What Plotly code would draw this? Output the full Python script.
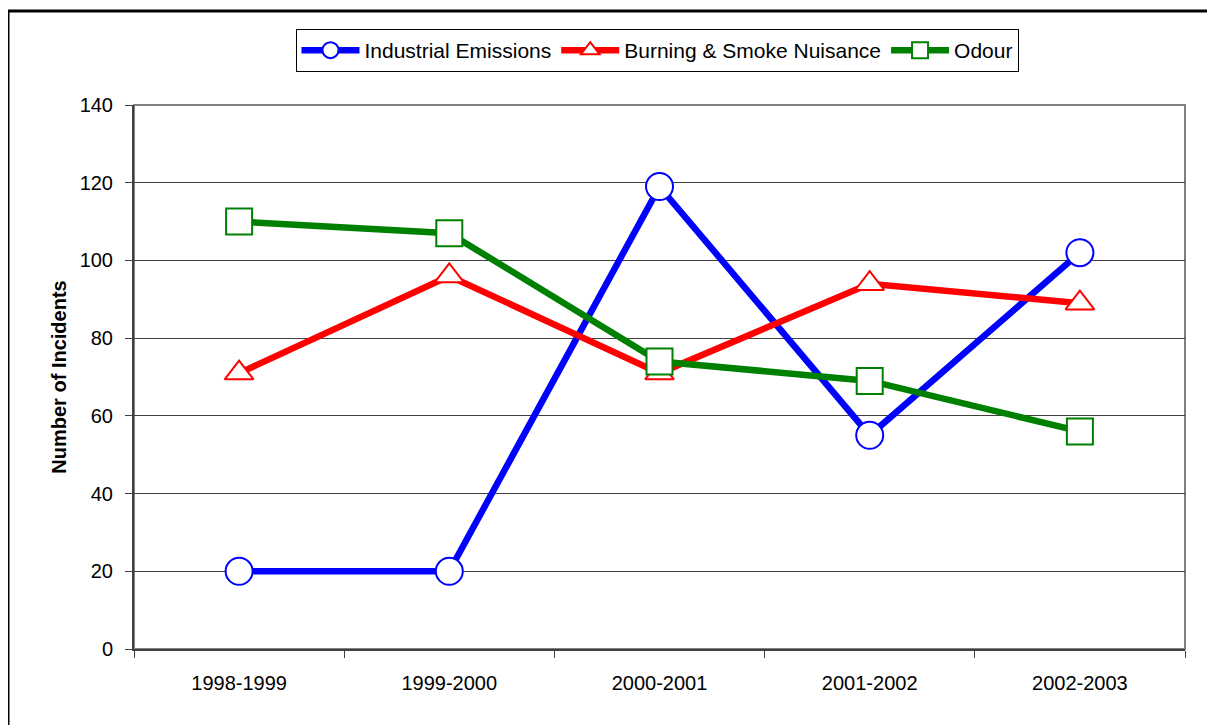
import plotly.graph_objects as go

years = ["1998-1999", "1999-2000", "2000-2001", "2001-2002", "2002-2003"]
industrial = [20, 20, 119, 55, 102]
burning = [71, 96, 71, 94, 89]
odour = [110, 107, 74, 69, 56]
y_ticks = [0, 20, 40, 60, 80, 100, 120, 140]

# page body has an 8px margin; compensate so the plot lands where the reference has it
OFF = 8
W, H = 1215 - OFF, 725 - OFF
L, R, T, B = 134 - OFF, 30, 105 - OFF, 76
pw, ph = W - L - R, H - T - B


def px_x(x):
    return (x - OFF - L) / pw


def px_y(y):
    return (H - B - (y - OFF)) / ph


fig = go.Figure()

series = [
    ("Industrial Emissions", industrial, "#0000FF", "circle", 27),
    ("Burning & Smoke Nuisance", burning, "#FF0000", "triangle-up", 25),
    ("Odour", odour, "#008000", "square", 26),
]
for name, vals, col, sym, sz in series:
    fig.add_trace(go.Scatter(
        x=years, y=vals, name=name, mode="lines+markers",
        line=dict(color=col, width=6.5),
        marker=dict(symbol=sym, size=sz, color="white", line=dict(color=col, width=2)),
        cliponaxis=False,
    ))

# outer frame
fig.add_shape(type="rect", xref="paper", yref="paper",
              x0=px_x(8), x1=px_x(1260),
              y0=px_y(780), y1=px_y(11),
              line=dict(color="black", width=3), fillcolor="rgba(0,0,0,0)", layer="below")
# plot area border (gray top/right)
fig.add_shape(type="rect", xref="paper", yref="paper", x0=0, x1=1, y0=0, y1=1,
              line=dict(color="#808080", width=2), layer="below")

fig.update_layout(
    width=W, height=H,
    margin=dict(l=L, r=R, t=T, b=B),
    paper_bgcolor="white", plot_bgcolor="white",
    font=dict(family="Liberation Sans, Arial", size=20, color="black"),
    showlegend=True,
    legend=dict(orientation="h", x=px_x(657), xanchor="center", y=px_y(29), yanchor="top",
                bordercolor="black", borderwidth=1, bgcolor="white",
                font=dict(size=21), tracegroupgap=0, itemwidth=58),
    xaxis=dict(type="category", range=[-0.5, 4.5], tickson="boundaries",
               ticks="outside", ticklen=7, tickcolor="#404040",
               showgrid=False, showline=True, linecolor="#404040", linewidth=2,
               tickfont=dict(size=20), ticklabelstandoff=15),
    yaxis=dict(range=[0, 140], tickvals=y_ticks, ticks="outside", ticklen=7,
               tickcolor="#404040", showgrid=True, gridcolor="#404040", gridwidth=1,
               showline=True, linecolor="#404040", linewidth=2, zeroline=False,
               tickfont=dict(size=20), ticklabelstandoff=8,
               title=dict(text="<b>Number of Incidents</b>", font=dict(size=20), standoff=8)),
)

fig.write_html("out.html")
